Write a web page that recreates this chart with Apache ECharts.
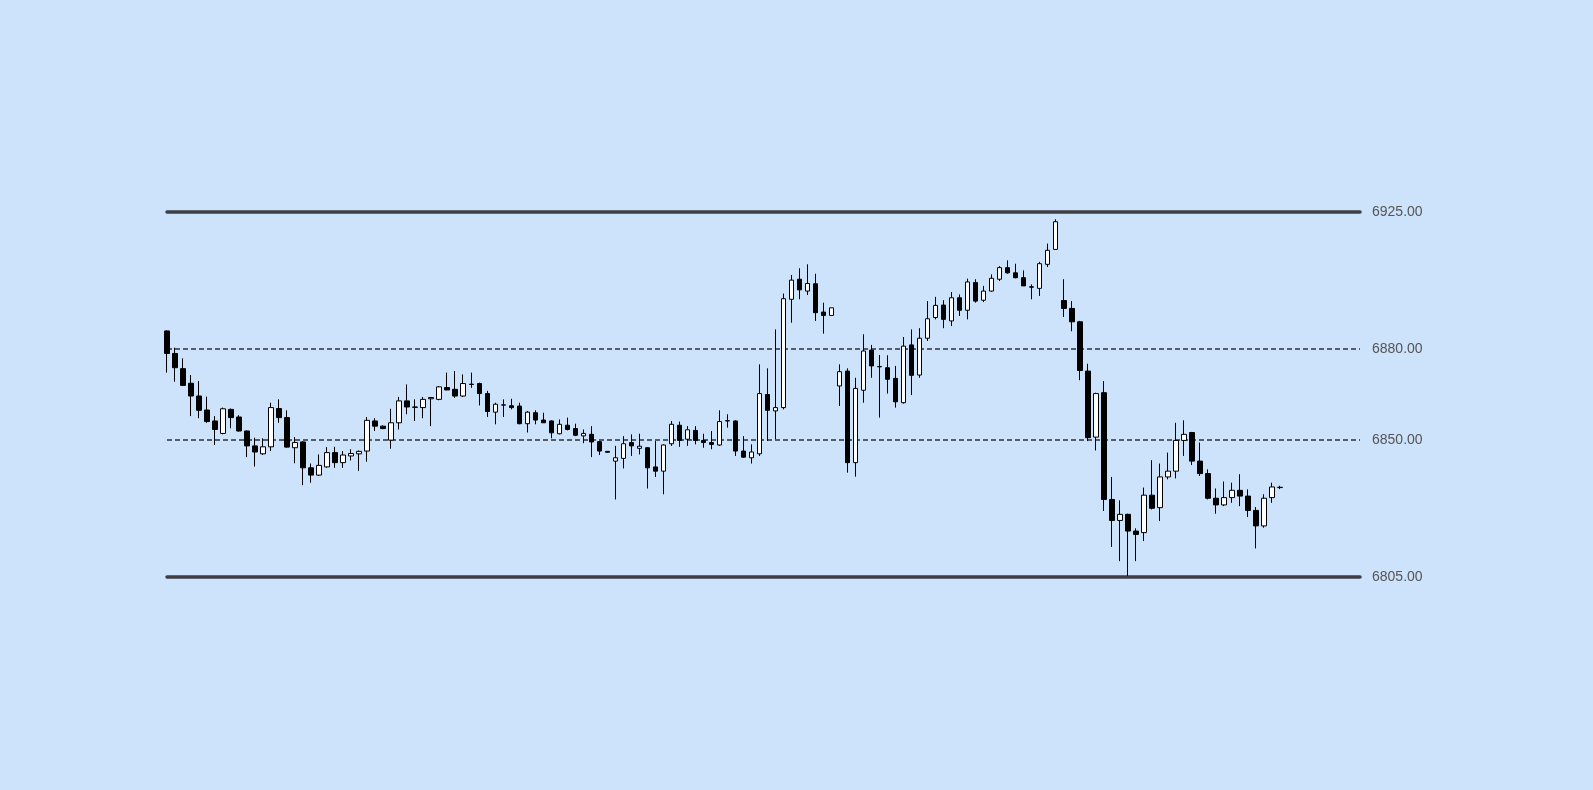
<!DOCTYPE html>
<html>
<head>
<meta charset="utf-8">
<script src="https://cdn.jsdelivr.net/npm/echarts@6/dist/echarts.min.js"></script>
<style>
html,body{margin:0;padding:0;background:#cde2fb;}
#chart{width:1593px;height:790px;}
</style>
</head>
<body>
<div id="chart"></div>
<script>
// number of bar slots in the session (only the first ones are filled)
var slotCount = 150;
var categories = [];
for (var i = 1; i <= slotCount; i++) categories.push(String(i));

var opens = [
6885.9,6878.5,6873.5,6868.7,6864.5,6859.9,6856.3,6852.2,6860.1,6857.6,
6853.0,6848.1,6845.5,6847.8,6860.4,6857.4,6847.5,6849.4,6840.9,6838.5,
6841.2,6845.9,6842.6,6844.8,6845.5,6846.4,6856.3,6854.6,6850.0,6855.7,
6862.9,6860.9,6860.7,6863.6,6863.4,6867.3,6866.7,6864.5,6868.4,6868.6,
6865.3,6859.2,6861.5,6861.3,6861.2,6855.4,6859.0,6856.6,6856.3,6852.1,
6854.9,6853.8,6851.4,6851.9,6849.5,6846.3,6843.1,6844.0,6849.2,6847.3,
6847.5,6841.2,6839.8,6848.8,6854.9,6850.3,6853.2,6849.9,6849.2,6848.4,
6856.3,6856.3,6846.4,6844.2,6845.5,6865.0,6859.6,6860.7,6896.3,6902.9,
6899.0,6901.4,6892.1,6891.0,6867.8,6872.7,6842.6,6866.4,6879.6,6874.2,
6873.8,6870.3,6862.3,6881.3,6871.4,6883.5,6890.3,6894.4,6889.2,6896.8,
6892.7,6901.8,6896.0,6899.0,6902.9,6906.7,6905.0,6903.4,6900.4,6899.9,
6907.8,6912.7,6895.9,6893.3,6888.9,6872.7,6851.0,6865.6,6830.5,6823.6,
6825.6,6820.1,6819.6,6831.9,6827.8,6837.9,6839.8,6849.9,6852.5,6843.1,
6839.0,6830.9,6828.7,6831.1,6833.5,6831.6,6826.9,6821.8,6831.1,6834.4
];
var closes = [
6878.5,6873.8,6868.0,6864.5,6859.8,6856.1,6853.5,6860.3,6857.4,6853.0,
6848.1,6846.1,6847.8,6860.7,6857.4,6847.7,6849.2,6840.9,6838.5,6841.7,
6845.9,6842.6,6845.1,6845.6,6846.3,6856.5,6854.6,6853.8,6855.7,6862.9,
6860.9,6860.8,6863.4,6864.0,6867.5,6866.5,6864.5,6868.6,6868.3,6865.3,
6859.4,6861.8,6861.6,6860.7,6855.4,6859.2,6856.6,6855.7,6852.4,6855.2,
6853.5,6851.6,6852.2,6849.4,6846.4,6846.0,6844.2,6848.8,6848.1,6848.0,
6840.9,6839.8,6848.4,6855.2,6849.9,6853.4,6849.9,6849.2,6848.6,6856.1,
6856.4,6846.4,6844.4,6846.1,6865.3,6859.8,6860.7,6896.5,6902.6,6899.4,
6901.5,6891.9,6891.0,6893.5,6872.5,6842.6,6867.0,6879.3,6874.4,6874.1,
6870.0,6862.6,6880.9,6871.3,6883.5,6889.9,6894.3,6889.7,6896.8,6892.7,
6902.0,6895.7,6899.0,6903.2,6906.7,6905.0,6903.4,6900.7,6900.3,6908.0,
6912.4,6921.8,6893.3,6888.9,6872.9,6850.8,6865.3,6830.5,6823.6,6825.6,
6820.1,6819.0,6831.9,6827.6,6837.9,6839.8,6849.9,6851.9,6843.1,6839.0,
6830.9,6828.7,6831.1,6833.5,6831.6,6826.9,6821.8,6830.9,6834.6,6834.5
];
var lows = [
6872.2,6869.2,6867.8,6857.9,6857.2,6855.7,6848.4,6851.9,6853.9,6852.8,
6844.4,6841.3,6845.1,6846.4,6855.7,6847.5,6842.4,6835.2,6836.0,6838.2,
6840.9,6840.9,6840.9,6843.3,6839.9,6842.9,6853.0,6853.6,6847.2,6853.5,
6858.5,6856.3,6857.2,6854.6,6863.1,6866.4,6863.9,6864.2,6867.2,6861.4,
6857.6,6855.2,6857.6,6860.1,6855.2,6852.5,6855.2,6855.7,6850.6,6851.9,
6853.2,6851.3,6849.0,6844.4,6845.1,6845.9,6830.5,6840.7,6844.8,6845.3,
6834.1,6837.9,6832.2,6848.1,6847.8,6848.1,6848.6,6847.5,6847.0,6848.1,
6854.1,6844.8,6844.2,6842.3,6844.8,6849.7,6850.3,6860.1,6888.6,6896.3,
6897.7,6889.2,6885.0,6891.0,6861.2,6839.3,6838.0,6862.3,6870.5,6857.4,
6865.3,6860.7,6862.0,6864.8,6870.5,6882.6,6889.7,6886.8,6887.5,6890.8,
6889.7,6895.2,6895.4,6898.8,6902.3,6904.7,6903.2,6900.7,6896.3,6897.4,
6906.9,6912.7,6890.5,6885.8,6869.7,6849.7,6846.6,6826.7,6814.9,6810.2,
6805.3,6810.2,6816.8,6827.2,6823.4,6837.1,6837.4,6844.8,6841.8,6838.2,
6830.5,6825.8,6828.3,6829.4,6828.3,6824.7,6814.4,6821.2,6829.4,6833.9
];
var highs = [
6886.1,6880.4,6876.9,6871.4,6869.4,6864.3,6857.9,6860.7,6860.4,6858.2,
6853.2,6850.8,6850.6,6862.3,6863.4,6859.8,6851.0,6849.7,6842.3,6845.3,
6847.7,6847.8,6846.4,6847.0,6846.6,6857.6,6857.2,6854.8,6860.3,6864.2,
6868.3,6863.4,6864.2,6864.2,6867.8,6872.2,6872.7,6871.6,6872.2,6868.9,
6866.2,6862.3,6863.4,6863.6,6862.3,6859.6,6859.8,6859.0,6856.5,6856.8,
6857.4,6855.4,6853.5,6854.6,6849.7,6846.4,6848.1,6851.3,6851.9,6852.1,
6847.7,6849.7,6848.6,6856.3,6856.1,6854.6,6854.6,6852.1,6853.0,6859.8,
6858.5,6856.5,6851.3,6848.6,6874.9,6873.6,6886.4,6898.2,6904.3,6906.5,
6907.8,6904.7,6895.2,6893.5,6874.9,6873.6,6870.5,6884.8,6881.3,6878.0,
6877.9,6874.4,6883.9,6886.4,6886.8,6895.7,6897.1,6896.0,6898.7,6897.9,
6903.1,6902.9,6900.7,6904.5,6907.2,6909.1,6908.0,6905.8,6901.2,6908.6,
6914.6,6922.6,6902.9,6895.7,6889.2,6875.1,6865.6,6869.4,6837.9,6830.2,
6825.8,6821.0,6834.4,6843.4,6842.3,6845.9,6855.7,6856.5,6852.7,6849.2,
6840.4,6834.1,6836.4,6836.0,6838.8,6833.8,6828.0,6832.2,6836.0,6835.0
];
// reference levels shown at the right
var levels = [6925, 6880, 6850, 6805];
var yMin = 6805, yMax = 6925;

var candleData = [];
for (var k = 0; k < opens.length; k++) {
  candleData.push([opens[k], closes[k], lows[k], highs[k]]);
}

var markData = levels.map(function (v) {
  var bound = (v === yMin || v === yMax);
  return {
    yAxis: v,
    lineStyle: bound
      ? {color: '#3d3f44', width: 3.5, type: 'solid', cap: 'round'}
      : {color: '#2f3236', width: 1.5, type: [5, 3]}
  };
});

var chart = echarts.init(document.getElementById('chart'), null, {renderer: 'canvas'});
chart.setOption({
  backgroundColor: '#cde2fb',
  animation: false,
  grid: {left: 167, right: 233, top: 212, bottom: 213, containLabel: false},
  xAxis: {
    type: 'category',
    data: categories,
    boundaryGap: false,
    show: false
  },
  yAxis: {
    type: 'value',
    min: yMin,
    max: yMax,
    show: false,
    splitLine: {show: false}
  },
  series: [{
    type: 'candlestick',
    data: candleData,
    barWidth: 5,
    clip: false,
    itemStyle: {
      color: '#ffffff',
      color0: '#000000',
      borderColor: '#000000',
      borderColor0: '#000000',
      borderColorDoji: '#000000',
      borderWidth: 1
    },
    markLine: {
      silent: true,
      symbol: ['none', 'none'],
      z: 1,
      label: {
        show: true,
        position: 'end',
        distance: 12,
        color: '#555555',
        fontSize: 14,
        fontFamily: '"Liberation Sans", Arial, sans-serif',
        formatter: function (p) { return Number(p.value).toFixed(2); }
      },
      emphasis: {disabled: true},
      data: markData
    }
  }]
});
</script>
</body>
</html>
